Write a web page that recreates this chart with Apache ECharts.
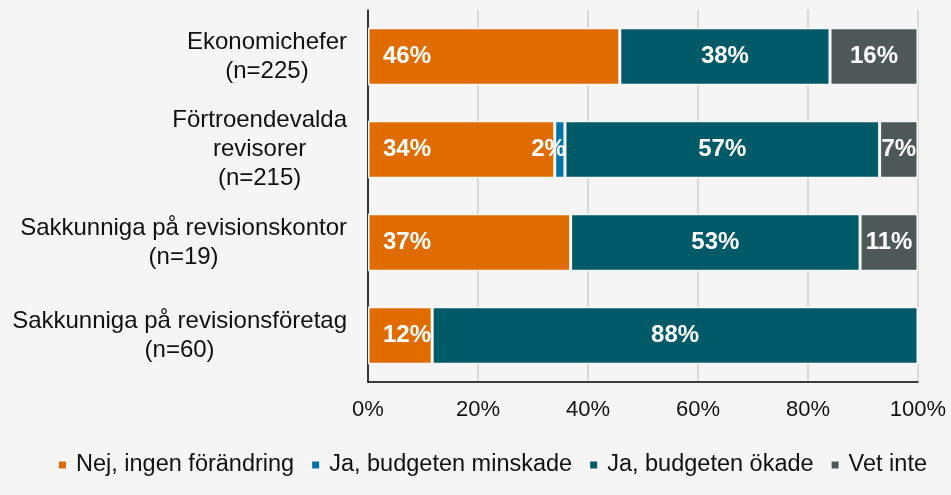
<!DOCTYPE html>
<html><head><meta charset="utf-8">
<script src="https://cdn.jsdelivr.net/npm/echarts@6/dist/echarts.min.js"></script>
<style>html,body{margin:0;padding:0;background:#f5f5f5;}#c{width:951px;height:495px;}</style>
</head><body><div id="c"></div>
<script>
var categories = [
  ['Ekonomichefer', '(n=225)'],
  ['Förtroendevalda', 'revisorer', '(n=215)'],
  ['Sakkunniga på revisionskontor', '(n=19)'],
  ['Sakkunniga på revisionsföretag', '(n=60)']
];
var seriesNames = ['Nej, ingen förändring', 'Ja, budgeten minskade', 'Ja, budgeten ökade', 'Vet inte'];
var nejValues = [45.78, 33.95, 36.84, 11.67];
var minskadeValues = [0, 1.86, 0, 0];
var okadeValues = [38.22, 57.21, 52.63, 88.33];
var vetInteValues = [16.00, 6.98, 10.53, 0];
var xTicks = [0, 20, 40, 60, 80, 100];

var colors = ['#e06c00', '#0074a8', '#005a68', '#4f5859'];
var FF = 'Liberation Sans, Arial, sans-serif';
var catKeys = categories.map(function (c) { return c.join('\n'); });

function lbl(p) { return p.value > 0 ? Math.round(p.value) + '%' : ''; }
var baseLabel = { show: true, color: '#fff', fontWeight: 'bold', fontSize: 24, fontFamily: FF, formatter: lbl };
function mk(i, data, labelExtra) {
  return {
    name: seriesNames[i], type: 'bar', stack: 'a', data: data, barWidth: '62%',
    itemStyle: { color: colors[i], borderColor: '#f7f7f7', borderWidth: 1.5 },
    label: Object.assign({}, baseLabel, labelExtra || { position: 'inside' }),
    emphasis: { disabled: true }
  };
}
var chart = echarts.init(document.getElementById('c'));
chart.setOption({
  backgroundColor: '#f5f5f5',
  animation: false,
  grid: { left: 368, right: 33, top: 10, bottom: 113 },
  xAxis: {
    type: 'value', min: 0, max: 100, interval: 20,
    axisLine: { show: true, lineStyle: { color: '#000', width: 1.5 } },
    axisTick: { show: false },
    splitLine: { show: true, lineStyle: { color: '#d9d9d9', width: 2 } },
    axisLabel: { margin: 17, fontSize: 22, color: '#111', fontFamily: FF,
      formatter: function (v) { return xTicks.indexOf(v) >= 0 ? v + '%' : ''; } }
  },
  yAxis: {
    type: 'category', data: catKeys, inverse: true,
    axisLine: { show: true, lineStyle: { color: '#000', width: 1.5 } },
    axisTick: { show: false },
    axisLabel: {
      margin: 21, fontSize: 24, color: '#111', lineHeight: 29, fontFamily: FF,
      formatter: function (v) { return v.split('\n').map(function (s) { return '{c|' + s + '}'; }).join('\n'); },
      rich: { c: { align: 'center', fontSize: 24, lineHeight: 29, color: '#111', fontFamily: FF } }
    }
  },
  legend: {
    left: 52, top: 448, itemWidth: 9, itemHeight: 9, itemGap: 16, icon: 'rect',
    textStyle: { fontSize: 23.5, color: '#111', fontFamily: FF, padding: [0, 0, 0, 4] },
    data: seriesNames
  },
  series: [
    mk(0, nejValues, { position: 'insideLeft', distance: 15 }),
    mk(1, minskadeValues, { position: 'insideRight', distance: -1 }),
    mk(2, okadeValues),
    mk(3, vetInteValues)
  ]
});
</script></body></html>
